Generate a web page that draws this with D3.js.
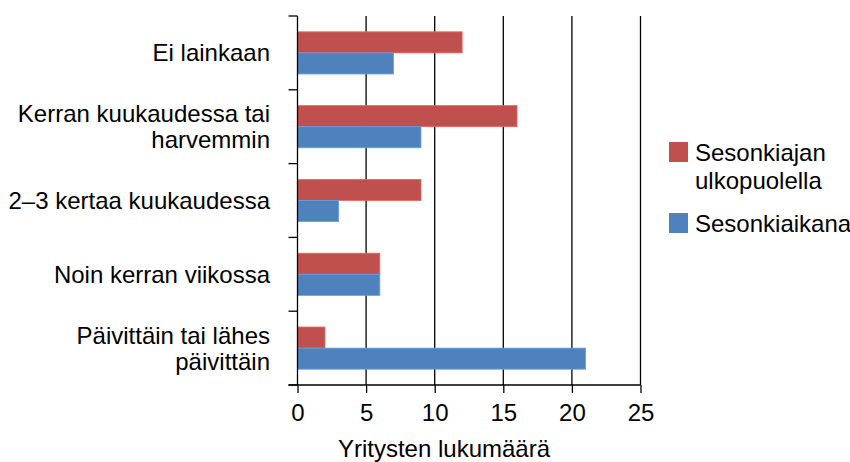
<!DOCTYPE html>
<html>
<head>
<meta charset="utf-8">
<script src="https://cdn.jsdelivr.net/npm/d3@7"></script>
<style>
	body { margin: 0; background: #fff; }
	text { font-family: "Liberation Sans", Arial, sans-serif; fill: #000; }
</style>
</head>
<body>
<script>
var categories = [
	["Ei lainkaan"],
	["Kerran kuukaudessa tai", "harvemmin"],
	["2–3 kertaa kuukaudessa"],
	["Noin kerran viikossa"],
	["Päivittäin tai lähes", "päivittäin"]
];
var outsideSeason = [12, 16, 9, 6, 2];
var duringSeason = [7, 9, 3, 6, 21];
var seriesNames = [["Sesonkiajan", "ulkopuolella"], ["Sesonkiaikana"]];
var seriesColors = ["#C0504D", "#4F81BD"];
var xTicks = [0, 5, 10, 15, 20, 25];

(function(){
	var svg = d3.select("body").append("svg")
		.attr("width", 850)
		.attr("height", 462);

	var left = 297.5, right = 640.5, top = 16, bottom = 385;

	var x = d3.scaleLinear().domain([0, 25]).range([left, right]);
	var y = d3.scaleBand().domain(d3.range(categories.length)).range([top, bottom]);
	var inner = d3.scaleBand().domain([0, 1]).range([0, y.bandwidth()]).paddingOuter(0.75);

	// gridlines
	svg.append("g").selectAll("line").data(xTicks.slice(1)).enter()
		.append("line")
		.attr("x1", function(d) {return x(d);})
		.attr("x2", function(d) {return x(d);})
		.attr("y1", top)
		.attr("y2", bottom)
		.style("stroke", "#000")
		.style("stroke-width", 1.3);

	// bars
	var series = [outsideSeason, duringSeason];
	series.forEach(function(vals, s) {
		svg.append("g").selectAll("rect").data(vals).enter()
			.append("rect")
			.attr("x", x(0))
			.attr("y", function(d, i) {return y(i) + inner(s);})
			.attr("width", function(d) {return x(d) - x(0);})
			.attr("height", inner.bandwidth())
			.style("fill", seriesColors[s])
			.style("stroke", d3.color(seriesColors[s]).brighter(0.6))
			.style("stroke-width", 0.8);
	});

	// y axis
	var ya = svg.append("g");
	ya.append("line")
		.attr("x1", left).attr("x2", left)
		.attr("y1", top).attr("y2", bottom)
		.style("stroke", "#000").style("stroke-width", 1.3);
	ya.selectAll("line.tick").data(d3.range(categories.length + 1)).enter()
		.append("line")
		.classed("tick", true)
		.attr("x1", left - 9).attr("x2", left)
		.attr("y1", function(d) {return top + d * y.step();})
		.attr("y2", function(d) {return top + d * y.step();})
		.style("stroke", "#000").style("stroke-width", 1.3);

	var lab = svg.append("g").selectAll("text").data(categories).enter()
		.append("text")
		.attr("text-anchor", "end")
		.style("font-size", "24px");
	lab.each(function(lines, i) {
		var cy = y(i) + y.bandwidth() / 2;
		var t = d3.select(this);
		lines.forEach(function(line, k) {
			t.append("tspan")
				.attr("x", 270)
				.attr("y", cy + (k - (lines.length - 1) / 2) * 26 + 8.5)
				.text(line);
		});
	});

	// x axis
	var xa = svg.append("g")
		.attr("transform", "translate(0," + bottom + ")")
		.call(d3.axisBottom(x).tickValues(xTicks).tickSize(8).tickPadding(11).tickSizeOuter(0));
	xa.select(".domain").attr("d", "M" + (left - 9) + ",0H" + right).style("stroke", "#000").style("stroke-width", 1.3);
	xa.selectAll(".tick line").style("stroke", "#000").style("stroke-width", 1.3);
	xa.selectAll(".tick text").style("font-size", "24px").style("font-family", "Liberation Sans, Arial, sans-serif");

	svg.append("text")
		.attr("x", 444)
		.attr("y", 457)
		.attr("text-anchor", "middle")
		.style("font-size", "24px")
		.text("Yritysten lukumäärä");

	// legend
	var leg = svg.append("g");
	var legY = [142, 213];
	seriesNames.forEach(function(lines, s) {
		leg.append("rect")
			.attr("x", 669).attr("y", legY[s])
			.attr("width", 19).attr("height", 20)
			.style("fill", seriesColors[s]);
		var t = leg.append("text").style("font-size", "24px");
		lines.forEach(function(line, k) {
			t.append("tspan")
				.attr("x", 695)
				.attr("y", legY[s] + 19 + k * 28)
				.text(line);
		});
	});
}());
</script>
</body>
</html>
